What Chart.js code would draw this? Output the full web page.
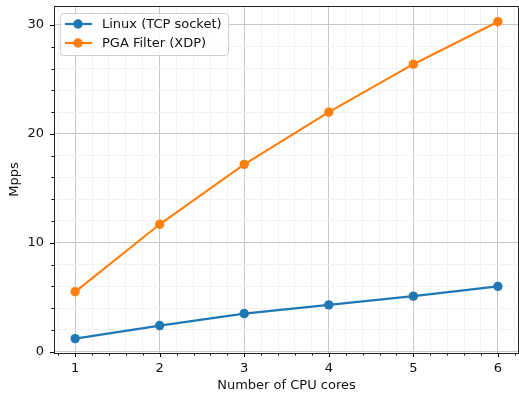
<!DOCTYPE html>
<html>
<head>
<meta charset="utf-8">
<script src="https://cdn.jsdelivr.net/npm/chart.js@4.4.1/dist/chart.umd.min.js"></script>
<style>
  html, body { margin: 0; padding: 0; background: #fff; }
  #wrap { width: 519px; height: 396px; }
</style>
</head>
<body>
<div id="wrap"><canvas id="c" width="519" height="396"></canvas></div>
<script>
const cores = [1, 2, 3, 4, 5, 6];
const linuxTcp = [1.2, 2.4, 3.5, 4.3, 5.1, 6.0];
const pgaXdp = [5.5, 11.7, 17.2, 22.0, 26.4, 30.3];
const seriesLabels = ['Linux (TCP socket)', 'PGA Filter (XDP)'];
const xTicksMajor = [1, 2, 3, 4, 5, 6];
const yTicksMajor = [0, 10, 20, 30];
const xTitle = 'Number of CPU cores';
const yTitle = 'Mpps';

const FONT = 'DejaVu Sans';
const FS = 13;
const TXT = '#111';
const blue = '#1f77b4', orange = '#ff7f0e';

function near(v, step) { return Math.abs(v / step - Math.round(v / step)) < 1e-6; }
function noPad(s) { s.paddingTop = 0; s.paddingBottom = 0; s.paddingLeft = 0; s.paddingRight = 0; }

const frame = {
  id: 'frame',
  afterDatasetsDraw(chart) {
    const ctx = chart.ctx, a = chart.chartArea;
    const xs = chart.scales.x, ys = chart.scales.y;
    ctx.save();
    ctx.strokeStyle = '#000';
    ctx.lineWidth = 1;
    xs.ticks.forEach(t => {
      const px = Math.round(xs.getPixelForValue(t.value)) + 0.5;
      const len = near(t.value, 1) ? 4 : 2.5;
      ctx.beginPath(); ctx.moveTo(px, a.bottom); ctx.lineTo(px, a.bottom + len); ctx.stroke();
    });
    ys.ticks.forEach(t => {
      const py = Math.round(ys.getPixelForValue(t.value)) + 0.5;
      const len = near(t.value, 10) ? 4 : 2.5;
      ctx.beginPath(); ctx.moveTo(a.left, py); ctx.lineTo(a.left - len, py); ctx.stroke();
    });
    ctx.strokeStyle = '#222';
    ctx.strokeRect(a.left + 0.5, a.top + 0.5, a.right - a.left - 1, a.bottom - a.top);
    // legend
    const lx = 60, ly = 13, lw = 168, lh = 42;
    ctx.fillStyle = 'rgba(255,255,255,0.85)';
    ctx.strokeStyle = '#d0d0d0';
    ctx.lineWidth = 1;
    ctx.beginPath();
    ctx.roundRect(lx + 0.5, ly + 0.5, lw, lh, 3);
    ctx.fill(); ctx.stroke();
    chart.data.datasets.forEach((ds, i) => {
      const cy = ly + 11 + i * 19;
      ctx.strokeStyle = ds.borderColor; ctx.lineWidth = 2.2;
      ctx.beginPath(); ctx.moveTo(lx + 5, cy); ctx.lineTo(lx + 32, cy); ctx.stroke();
      ctx.fillStyle = ds.borderColor;
      ctx.beginPath(); ctx.arc(lx + 18, cy, 4.7, 0, Math.PI * 2); ctx.fill();
      ctx.fillStyle = TXT;
      ctx.font = FS + 'px "' + FONT + '"';
      ctx.textBaseline = 'middle'; ctx.textAlign = 'left';
      ctx.fillText(ds.label, lx + 42, cy + 0.5);
    });
    ctx.restore();
  }
};

new Chart(document.getElementById('c'), {
  type: 'line',
  data: {
    datasets: [
      { label: seriesLabels[0], data: cores.map((c, i) => ({ x: c, y: linuxTcp[i] })),
        borderColor: blue, backgroundColor: blue, borderWidth: 2.2, pointRadius: 4.7,
        pointBackgroundColor: blue, pointBorderWidth: 0, tension: 0, clip: false },
      { label: seriesLabels[1], data: cores.map((c, i) => ({ x: c, y: pgaXdp[i] })),
        borderColor: orange, backgroundColor: orange, borderWidth: 2.2, pointRadius: 4.7,
        pointBackgroundColor: orange, pointBorderWidth: 0, tension: 0, clip: false }
    ]
  },
  options: {
    responsive: false,
    animation: false,
    devicePixelRatio: 1,
    layout: { autoPadding: false, padding: { top: 6, right: -2, left: 0, bottom: 0 } },
    plugins: { legend: { display: false }, tooltip: { enabled: false } },
    scales: {
      x: {
        type: 'linear', min: 0.75, max: 6.25,
        afterBuildTicks: s => {
          const t = []; for (let k = 4; k <= 31; k++) t.push({ value: k / 5 });
          s.ticks = t;
        },
        afterFit: s => { s.height = 43; noPad(s); },
        ticks: {
          autoSkip: false, maxRotation: 0, padding: 8, color: TXT,
          font: { family: FONT, size: FS },
          callback: v => xTicksMajor.some(m => Math.abs(m - v) < 1e-6) ? String(Math.round(v)) : ''
        },
        grid: {
          drawTicks: false,
          color: c => near(c.tick.value, 1) ? '#c8c8c8' : '#efefef',
          lineWidth: c => near(c.tick.value, 1) ? 1 : 0.8
        },
        border: { display: false },
        title: { display: true, text: xTitle, color: TXT, font: { family: FONT, size: FS }, padding: { top: 0, bottom: 3 } }
      },
      y: {
        type: 'linear', min: -0.12, max: 31.74,
        afterBuildTicks: s => {
          const t = []; for (let v = 0; v <= 30; v += 2) t.push({ value: v });
          s.ticks = t;
        },
        afterFit: s => { s.width = 54; noPad(s); },
        ticks: {
          autoSkip: false, padding: 10, color: TXT,
          font: { family: FONT, size: FS },
          callback: v => yTicksMajor.includes(v) ? String(v) : ''
        },
        grid: {
          drawTicks: false,
          color: c => near(c.tick.value, 10) ? '#c8c8c8' : '#efefef',
          lineWidth: c => near(c.tick.value, 10) ? 1 : 0.8
        },
        border: { display: false },
        title: { display: true, text: yTitle, color: TXT, font: { family: FONT, size: FS }, padding: { top: 7, bottom: 0 } }
      }
    }
  },
  plugins: [frame]
});
</script>
</body>
</html>
